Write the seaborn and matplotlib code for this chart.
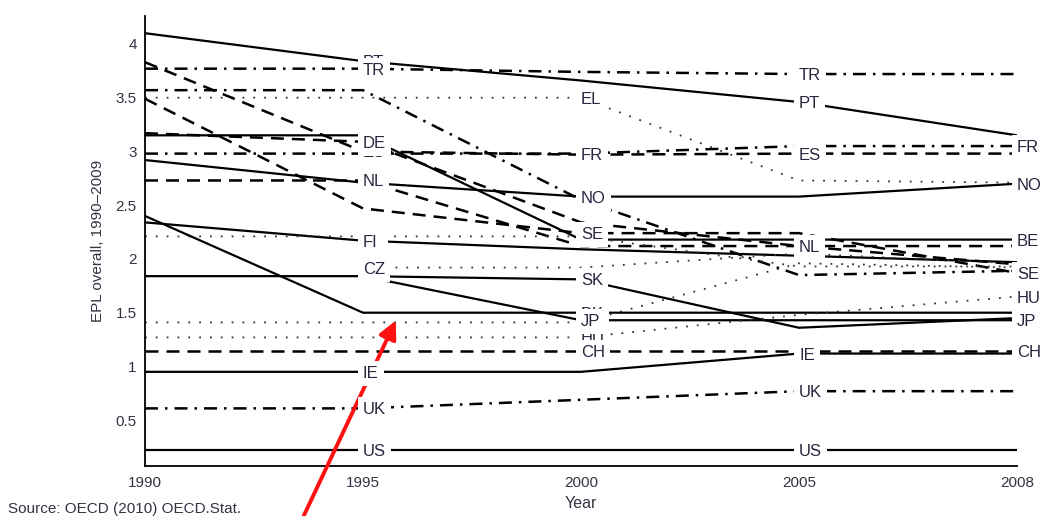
import numpy as np
import pandas as pd
import matplotlib
matplotlib.use("Agg")
import matplotlib.pyplot as plt
import seaborn as sns

nan = np.nan
years = [1990, 1995, 2000, 2005, 2008]

# EPL overall values per country
PT = [4.10, 3.84, 3.66, 3.46, 3.15]
TR = [3.77, 3.77, 3.74, 3.72, 3.72]
IT = [3.57, 3.57, 2.55, 1.85, 1.89]
EL = [3.50, 3.50, 3.50, 2.73, 2.71]
ES = [3.83, 3.00, 2.97, 2.98, 2.98]
DE = [3.17, 3.09, 2.34, 2.12, 2.12]
BE = [3.15, 3.15, 2.18, 2.18, 2.18]
FR = [2.98, 2.98, 2.98, 3.05, 3.05]
NO = [2.92, 2.71, 2.58, 2.58, 2.70]
NL = [2.73, 2.73, 2.12, 2.12, 1.95]
SE = [3.49, 2.47, 2.24, 2.24, 1.87]
FI = [2.34, 2.17, 2.09, 2.03, 1.97]
AT = [2.21, 2.21, 2.21, 1.93, 1.93]
DK = [2.40, 1.50, 1.50, 1.50, 1.50]
CZ = [nan, 1.92, 1.92, 2.05, 1.96]
JP = [1.84, 1.84, 1.43, 1.43, 1.43]
SK = [nan, 1.84, 1.81, 1.36, 1.45]
PL = [1.41, 1.41, 1.41, 1.96, 1.92]
HU = [1.27, 1.27, 1.27, 1.48, 1.65]
CH = [1.14, 1.14, 1.14, 1.14, 1.14]
IE = [0.95, 0.95, 0.95, 1.12, 1.12]
UK = [0.61, 0.61, 0.69, 0.77, 0.77]
US = [0.22, 0.22, 0.22, 0.22, 0.22]

countries = {
    "PT": (PT, "solid"), "TR": (TR, "dashdot"), "IT": (IT, "dashdot"),
    "EL": (EL, "dotted"), "ES": (ES, "dashed"), "DE": (DE, "dashed"),
    "BE": (BE, "solid"), "FR": (FR, "dashdot"), "NO": (NO, "solid"),
    "NL": (NL, "dashed"), "SE": (SE, "dashed"), "FI": (FI, "solid"),
    "AT": (AT, "dotted"), "DK": (DK, "solid"), "CZ": (CZ, "dotted"),
    "JP": (JP, "solid"), "SK": (SK, "solid"), "PL": (PL, "dotted"),
    "HU": (HU, "dotted"), "CH": (CH, "dashed"), "IE": (IE, "solid"),
    "UK": (UK, "dashdot"), "US": (US, "solid"),
}

# labels shown at each year (drawn in order; later ones cover earlier ones)
labels_1995 = ["PT", "TR", "ES", "DE", "NL", "AT", "FI", "CZ", "IE", "UK", "US"]
labels_2000 = ["EL", "FR", "NO", "SE", "SK", "DK", "HU", "JP", "CH"]
labels_2005 = ["TR", "PT", "ES", "NL", "IE", "UK", "US"]
labels_2008 = ["FR", "NO", "BE", "SE", "HU", "JP", "CH"]

styles = {
    "solid": dict(linestyle="-", linewidth=1.6, color="black"),
    "dashed": dict(linestyle=(0, (5.2, 3.2)), linewidth=1.8, color="black"),
    "dashdot": dict(linestyle=(0, (5.2, 2.8, 1.0, 2.8)), linewidth=1.8, color="black"),
    "dotted": dict(linestyle=(0, (1.0, 5.0)), linewidth=1.3, color="#333333"),
}

sns.set_theme(style="white")
plt.rcParams["font.family"] = ["Liberation Sans", "DejaVu Sans"]

fig = plt.figure(figsize=(10.4, 5.16), dpi=100)
ax = fig.add_axes([145 / 1040, 50 / 516, 872 / 1040, 450 / 516])

pos = list(range(len(years)))
for name, (vals, kind) in countries.items():
    df = pd.DataFrame({"x": pos, "y": vals}).dropna()
    sns.lineplot(data=df, x="x", y="y", ax=ax, estimator=None, errorbar=None,
                 zorder=2, **styles[kind])

label_color = "#26263f"
def put_label(name, idx):
    v = countries[name][0][idx]
    ax.annotate(name, xy=(idx, v), xytext=(0, 0), textcoords="offset points",
                ha="left", va="center_baseline", fontsize=12, color=label_color,
                bbox=dict(boxstyle="square,pad=0.3", fc="white", ec="none"),
                zorder=5, annotation_clip=False)

for name in labels_1995:
    put_label(name, years.index(1995))
for name in labels_2000:
    put_label(name, years.index(2000))
for name in labels_2005:
    put_label(name, years.index(2005))
for name in labels_2008:
    put_label(name, years.index(2008))

ax.set_xlim(0, len(years) - 1)
ax.set_ylim(0.074, 4.26)
ax.set_xticks(pos)
ax.set_xticklabels([str(y) for y in years])
yt = [0.5, 1, 1.5, 2, 2.5, 3, 3.5, 4]
ax.set_yticks(yt)
ax.set_yticklabels(["%g" % t for t in yt])
ax.tick_params(axis="both", length=0, labelsize=11, labelcolor="#333344")
ax.tick_params(axis="x", pad=7)
ax.tick_params(axis="y", pad=6)
for s in ["top", "right"]:
    ax.spines[s].set_visible(False)
for s in ["left", "bottom"]:
    ax.spines[s].set_color("black")
    ax.spines[s].set_linewidth(1.3)

ax.set_xlabel("Year", fontsize=11.5, color="#333344")
ax.set_ylabel("EPL overall, 1990\u20132009", fontsize=11, color="#333344")
ax.xaxis.set_label_coords(0.5, -0.066)
ax.yaxis.set_label_coords(-0.046, 0.5)

fig.text(8 / 1040, 7 / 516, "Source: OECD (2010) OECD.Stat.", fontsize=11,
         color="#333344", ha="left", va="center")

ax.annotate("", xy=(397, 198), xycoords="figure pixels",
            xytext=(298, -12), textcoords="figure pixels",
            arrowprops=dict(arrowstyle="-|>,head_length=0.9,head_width=0.45",
                            color="#ff1010", lw=2.8),
            annotation_clip=False)

fig.savefig("out.png", dpi=100)
